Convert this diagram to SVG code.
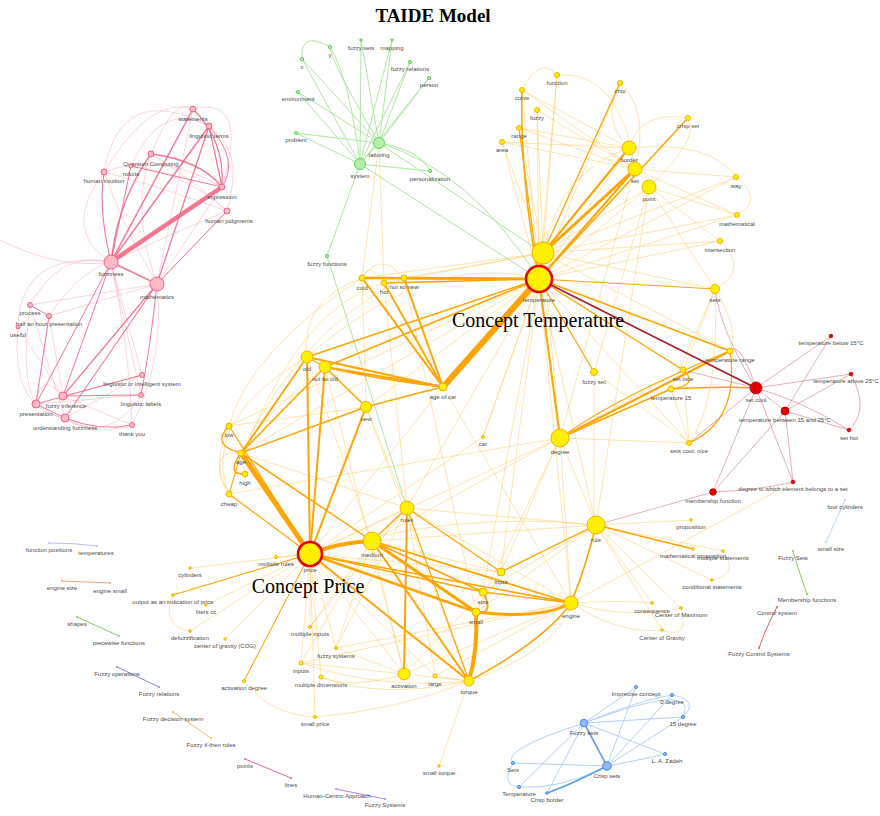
<svg xmlns="http://www.w3.org/2000/svg" width="880" height="816" viewBox="0 0 880 816">
<style>
  .bg{fill:#fff}
  .ps{stroke:#f2607f;fill:none;stroke-linecap:round;opacity:.85}
  .pf{stroke:#f37a95;fill:none;stroke-width:.8;opacity:.4}
  .os{stroke:#ffa400;fill:none;stroke-linecap:round}
  .of{stroke:#ffbf3a;fill:none;stroke-width:.8;opacity:.5}
  .gs{stroke:#a6e39a;fill:none;stroke-width:.9}
  .rs{stroke:#a3202e;fill:none;stroke-width:1.8}
  .rf{stroke:#cc5566;fill:none;stroke-width:.8;opacity:.6}
  .bs{stroke:#5f9de8;fill:none;stroke-width:1.6}
  .bf{stroke:#a9ccf4;fill:none;stroke-width:.9}
  .n-pk{fill:#ffb9c6;stroke:#f0607e;stroke-width:1}
  .n-or{fill:#ffef00;stroke:#f6ae00;stroke-width:1}
  .n-key{fill:#ffef00;stroke:#e60000;stroke-width:2.6}
  .n-gr{fill:#b7eeaa;stroke:#5ed35a;stroke-width:1}
  .n-rd{fill:#e00000;stroke:#b00000;stroke-width:.8}
  .n-bl{fill:#8cb9f2;stroke:#4a8ee6;stroke-width:1}
  .l{font-family:"Liberation Sans",Arial,sans-serif;font-size:6px;fill:#4a4a4a;text-anchor:middle}
  .big{font-family:"Liberation Serif","Times New Roman",serif;font-size:20px;fill:#000;text-anchor:middle}
  .title{font-family:"Liberation Serif","Times New Roman",serif;font-size:19px;font-weight:bold;fill:#000;text-anchor:middle}
</style>
<rect class="bg" x="0" y="0" width="880" height="816"/>

<g id="connectors">
  <!-- pink cluster -->
  <g id="edges-pink">
    <path class="pf" d="M104,172 Q120,80 209,126"/>
    <path class="pf" d="M151,154 Q175,95 193,109"/>
    <path class="pf" d="M193,109 Q250,95 222,187"/>
    <path class="pf" d="M209,126 Q245,150 227,211"/>
    <path class="pf" d="M104,172 Q160,150 222,187"/>
    <path class="pf" d="M104,172 Q170,190 227,211"/>
    <path class="pf" d="M131,166 Q180,170 227,211"/>
    <path class="pf" d="M151,154 Q200,185 227,211"/>
    <path class="pf" d="M111,262 Q180,230 227,211"/>
    <path class="pf" d="M157,284 Q200,240 227,211"/>
    <path class="pf" d="M157,284 L222,187"/>
    <path class="pf" d="M157,284 L193,109"/>
    <path class="pf" d="M157,284 Q130,210 151,154"/>
    <path class="pf" d="M157,284 Q120,220 104,172"/>
    <path class="pf" d="M104,172 Q150,95 193,109"/>
    <path class="pf" d="M131,166 Q160,100 209,126"/>
    <path class="pf" d="M18,327 Q20,250 111,262"/>
    <path class="pf" d="M30,305 Q60,250 111,262"/>
    <path class="pf" d="M49,316 Q80,270 111,262"/>
    <path class="pf" d="M30,305 L157,284"/>
    <path class="pf" d="M49,316 L157,284"/>
    <path class="pf" d="M18,327 Q10,410 65,418"/>
    <path class="pf" d="M18,327 L63,396"/>
    <path class="pf" d="M30,305 L65,418"/>
    <path class="pf" d="M49,316 L63,396"/>
    <path class="pf" d="M49,316 L36,404"/>
    <path class="pf" d="M30,305 Q20,380 36,404"/>
    <path class="pf" d="M65,418 Q110,445 141,395"/>
    <path class="pf" d="M36,404 Q90,440 132,425"/>
    <path class="pf" d="M63,396 L132,425"/>
    <path class="pf" d="M111,262 L142,375"/>
    <path class="pf" d="M111,262 L141,395"/>
    <path class="pf" d="M111,262 Q130,350 132,425"/>
    <path class="pf" d="M157,284 Q165,360 132,425"/>
    <path class="pf" d="M142,375 L65,418"/>
    <path class="pf" d="M141,395 L36,404"/>
    <path class="pf" d="M142,375 L63,396"/>
    <path class="pf" d="M36,404 Q40,370 63,396"/>
    <path class="pf" d="M104,172 Q60,230 111,262"/>
    <path class="pf" d="M0,240 Q60,270 111,262"/>
    <path class="ps" stroke-width="4.5" d="M111,262 L222,187"/>
    <path class="ps" stroke-width="1.5" d="M111,262 L193,109"/>
    <path class="ps" stroke-width="1.5" d="M111,262 L209,126"/>
    <path class="ps" stroke-width="1.3" d="M111,262 Q118,200 151,154"/>
    <path class="ps" stroke-width="1.1" d="M111,262 Q98,210 104,172"/>
    <path class="ps" stroke-width="1" d="M111,262 L131,166"/>
    <path class="ps" stroke-width="1.6" d="M111,262 L157,284"/>
    <path class="ps" stroke-width="1.3" d="M157,284 L209,126"/>
    <path class="ps" stroke-width="1.5" d="M151,154 Q200,160 222,187"/>
    <path class="ps" stroke-width="1.2" d="M193,109 Q225,140 222,187"/>
    <path class="ps" stroke-width="1.2" d="M209,126 L222,187"/>
    <path class="ps" stroke-width="1" d="M209,126 Q240,160 222,187"/>
    <path class="ps" stroke-width="1" d="M131,166 L222,187"/>
    <path class="ps" stroke-width="1" d="M157,284 L227,211"/>
    <path class="ps" stroke-width="1.2" d="M157,284 L63,396"/>
    <path class="ps" stroke-width="1.1" d="M157,284 L65,418"/>
    <path class="ps" stroke-width="1" d="M111,262 L36,404"/>
    <path class="ps" stroke-width="1" d="M111,262 L63,396"/>
    <path class="ps" stroke-width="1" d="M157,284 Q150,350 141,395"/>
    <path class="ps" stroke-width="1" d="M63,396 L141,395"/>
    <path class="ps" stroke-width="1" d="M36,404 L142,375"/>
    <path class="ps" stroke-width="1" d="M65,418 Q100,432 132,425"/>
    <path class="ps" stroke-width="1" d="M36,404 L65,418"/>
    <path class="ps" stroke-width="1" d="M30,305 L49,316"/>
    <path class="ps" stroke-width=".9" d="M36,404 L49,316"/>
  </g>

  <!-- green cluster -->
  <g id="edges-green">
    <path class="gs" d="M379,143 L302,59"/>
    <path class="gs" d="M379,143 Q330,60 330,47"/>
    <path class="gs" d="M379,143 L361,40"/>
    <path class="gs" d="M379,143 L392,40"/>
    <path class="gs" d="M379,143 L410,62"/>
    <path class="gs" d="M379,143 L429,78"/>
    <path class="gs" d="M379,143 L298,92"/>
    <path class="gs" d="M379,143 L296,133"/>
    <path class="gs" d="M379,143 Q420,150 430,171"/>
    <path class="gs" d="M360,164 L302,59"/>
    <path class="gs" d="M360,164 Q350,80 330,47"/>
    <path class="gs" d="M360,164 L361,40"/>
    <path class="gs" d="M360,164 L392,40"/>
    <path class="gs" d="M360,164 L410,62"/>
    <path class="gs" d="M360,164 L429,78"/>
    <path class="gs" d="M360,164 L298,92"/>
    <path class="gs" d="M360,164 L296,133"/>
    <path class="gs" d="M360,164 L430,171"/>
    <path class="gs" d="M360,164 L379,143"/>
    <path class="gs" d="M302,59 Q300,30 330,47"/>
    <path class="gs" d="M360,164 L327,256"/>
    <path class="gs" d="M327,256 L407,508"/>
    <path class="gs" d="M379,143 Q470,170 539,279"/>
    <path class="gs" d="M360,164 L539,279"/>
    <path class="gs" d="M379,143 L543,253"/>
  </g>

  <!-- orange cluster, faint links -->
  <g id="edges-orange-faint">
    <path class="of" d="M539,279 L557,75"/>
    <path class="of" d="M539,279 L522,90"/>
    <path class="of" d="M539,279 L537,110"/>
    <path class="of" d="M539,279 L502,142"/>
    <path class="of" d="M539,279 L620,83"/>
    <path class="of" d="M539,279 L736,177"/>
    <path class="of" d="M539,279 L737,215"/>
    <path class="of" d="M539,279 L720,241"/>
    <path class="of" d="M539,279 L649,187"/>
    <path class="of" d="M539,279 L629,148"/>
    <path class="of" d="M539,279 L689,443"/>
    <path class="of" d="M539,279 L483,437"/>
    <path class="of" d="M539,279 L596,525"/>
    <path class="of" d="M539,279 L571,603"/>
    <path class="of" d="M539,279 L501,572"/>
    <path class="of" d="M539,279 L483,592"/>
    <path class="of" d="M539,279 L407,508"/>
    <path class="of" d="M539,279 L366,407"/>
    <path class="of" d="M539,279 L229,426"/>
    <path class="of" d="M539,279 L241,453"/>
    <path class="of" d="M539,279 Q430,250 307,357"/>
    <path class="of" d="M543,253 L557,75"/>
    <path class="of" d="M543,253 L537,110"/>
    <path class="of" d="M543,253 L519,128"/>
    <path class="of" d="M543,253 L502,142"/>
    <path class="of" d="M543,253 L736,177"/>
    <path class="of" d="M543,253 L737,215"/>
    <path class="of" d="M543,253 L720,241"/>
    <path class="of" d="M543,253 L715,289"/>
    <path class="of" d="M543,253 L649,187"/>
    <path class="of" d="M543,253 L362,278"/>
    <path class="of" d="M543,253 L404,278"/>
    <path class="of" d="M543,253 L384,283"/>
    <path class="of" d="M543,253 L560,438"/>
    <path class="of" d="M543,253 L730,351"/>
    <path class="of" d="M522,90 L629,148"/>
    <path class="of" d="M522,90 L635,169"/>
    <path class="of" d="M519,128 L629,148"/>
    <path class="of" d="M519,128 L635,169"/>
    <path class="of" d="M502,142 L635,169"/>
    <path class="of" d="M502,142 L629,148"/>
    <path class="of" d="M537,110 L635,169"/>
    <path class="of" d="M557,75 Q620,70 635,169"/>
    <path class="of" d="M522,90 Q540,55 557,75"/>
    <path class="of" d="M620,83 Q650,110 635,169"/>
    <path class="of" d="M620,83 Q600,120 629,148"/>
    <path class="of" d="M688,118 Q700,140 649,187"/>
    <path class="of" d="M688,118 Q640,110 629,148"/>
    <path class="of" d="M629,148 Q710,140 736,177"/>
    <path class="of" d="M635,169 L736,177"/>
    <path class="of" d="M649,187 L737,215"/>
    <path class="of" d="M635,169 L737,215"/>
    <path class="of" d="M649,187 L720,241"/>
    <path class="of" d="M736,177 Q765,200 737,215"/>
    <path class="of" d="M720,241 Q750,270 715,289"/>
    <path class="of" d="M649,187 L715,289"/>
    <path class="of" d="M629,148 Q560,170 543,253"/>
    <path class="of" d="M649,187 L594,372"/>
    <path class="of" d="M635,169 L560,438"/>
    <path class="of" d="M649,187 L596,525"/>
    <path class="of" d="M715,289 Q700,330 683,370"/>
    <path class="of" d="M715,289 L671,389"/>
    <path class="of" d="M715,289 Q740,330 730,351"/>
    <path class="of" d="M715,289 Q720,400 689,443"/>
    <path class="of" d="M539,279 L730,351"/>
    <path class="of" d="M560,438 L683,370"/>
    <path class="of" d="M560,438 L689,443"/>
    <path class="of" d="M560,438 L596,525"/>
    <path class="of" d="M560,438 L571,603"/>
    <path class="of" d="M560,438 L501,572"/>
    <path class="of" d="M560,438 L476,612"/>
    <path class="of" d="M560,438 L372,541"/>
    <path class="of" d="M560,438 L310,554"/>
    <path class="of" d="M560,438 L229,494"/>
    <path class="of" d="M594,372 L594,520"/>
    <path class="of" d="M594,372 L690,443"/>
    <path class="of" d="M683,370 L689,443"/>
    <path class="of" d="M671,389 L689,443"/>
    <path class="of" d="M483,437 L310,554"/>
    <path class="of" d="M483,437 L539,279"/>
    <path class="of" d="M362,278 Q300,300 307,357"/>
    <path class="of" d="M362,278 Q250,350 229,426"/>
    <path class="of" d="M404,278 Q300,330 241,453"/>
    <path class="of" d="M384,283 Q290,310 229,494"/>
    <path class="of" d="M362,278 Q380,250 404,278"/>
    <path class="of" d="M362,278 Q370,260 384,283"/>
    <path class="of" d="M362,278 L366,407"/>
    <path class="of" d="M384,283 L407,508"/>
    <path class="of" d="M404,278 L476,612"/>
    <path class="of" d="M362,278 L379,143"/>
    <path class="of" d="M384,283 L379,143"/>
    <path class="of" d="M307,357 Q200,420 229,494"/>
    <path class="of" d="M325,367 Q230,440 245,474"/>
    <path class="of" d="M229,426 L366,407"/>
    <path class="of" d="M229,426 Q210,470 229,494"/>
    <path class="of" d="M229,494 Q205,450 241,453"/>
    <path class="of" d="M241,453 L407,508"/>
    <path class="of" d="M307,357 L372,541"/>
    <path class="of" d="M325,367 L404,674"/>
    <path class="of" d="M366,407 L407,508"/>
    <path class="of" d="M366,407 L469,681"/>
    <path class="of" d="M443,387 L571,603"/>
    <path class="of" d="M443,387 L310,554"/>
    <path class="of" d="M596,525 L691,520"/>
    <path class="of" d="M596,525 L723,551"/>
    <path class="of" d="M596,525 L712,580"/>
    <path class="of" d="M596,525 L652,603"/>
    <path class="of" d="M596,525 L681,608"/>
    <path class="of" d="M596,525 L662,630"/>
    <path class="of" d="M596,525 L501,572"/>
    <path class="of" d="M596,525 L372,541"/>
    <path class="of" d="M596,525 L407,508"/>
    <path class="of" d="M596,525 Q450,510 310,554"/>
    <path class="of" d="M596,525 L483,592"/>
    <path class="of" d="M596,525 L476,612"/>
    <path class="of" d="M723,551 Q740,575 712,580"/>
    <path class="of" d="M571,603 Q620,600 652,603"/>
    <path class="of" d="M571,603 Q630,620 681,608"/>
    <path class="of" d="M571,603 Q620,635 662,630"/>
    <path class="of" d="M681,608 Q690,640 662,630"/>
    <path class="of" d="M571,603 L372,541"/>
    <path class="of" d="M571,603 L407,508"/>
    <path class="of" d="M571,603 L404,674"/>
    <path class="of" d="M571,603 L435,676"/>
    <path class="of" d="M571,603 L336,648"/>
    <path class="of" d="M571,603 L301,663"/>
    <path class="of" d="M571,603 L793,482"/>
    <path class="of" d="M310,554 L276,557"/>
    <path class="of" d="M310,554 L190,568"/>
    <path class="of" d="M310,554 L173,595"/>
    <path class="of" d="M310,554 L206,605"/>
    <path class="of" d="M310,554 L190,631"/>
    <path class="of" d="M310,554 L225,639"/>
    <path class="of" d="M310,554 L244,681"/>
    <path class="of" d="M310,554 L310,627"/>
    <path class="of" d="M310,554 L336,648"/>
    <path class="of" d="M310,554 L301,663"/>
    <path class="of" d="M310,554 L321,677"/>
    <path class="of" d="M310,554 L315,717"/>
    <path class="of" d="M310,554 L404,674"/>
    <path class="of" d="M310,554 L435,676"/>
    <path class="of" d="M310,554 L501,572"/>
    <path class="of" d="M310,554 L407,508"/>
    <path class="of" d="M173,595 Q160,625 190,631"/>
    <path class="of" d="M244,681 Q270,715 315,717"/>
    <path class="of" d="M315,717 Q400,710 469,681"/>
    <path class="of" d="M469,681 L439,766"/>
    <path class="of" d="M469,681 L404,674"/>
    <path class="of" d="M469,681 L435,676"/>
    <path class="of" d="M469,681 Q380,690 301,663"/>
    <path class="of" d="M469,681 Q380,700 321,677"/>
    <path class="of" d="M404,674 L301,663"/>
    <path class="of" d="M404,674 L336,648"/>
    <path class="of" d="M404,674 Q350,690 321,677"/>
    <path class="of" d="M404,674 L372,541"/>
    <path class="of" d="M404,674 L483,592"/>
    <path class="of" d="M407,508 L310,627"/>
    <path class="of" d="M407,508 L336,648"/>
    <path class="of" d="M407,508 L435,676"/>
    <path class="of" d="M372,541 L310,627"/>
    <path class="of" d="M372,541 L301,663"/>
    <path class="of" d="M372,541 L336,648"/>
    <path class="of" d="M501,572 L372,541"/>
    <path class="of" d="M501,572 L476,612"/>
    <path class="of" d="M483,592 L372,541"/>
    <path class="of" d="M469,681 Q560,650 571,603"/>
  </g>

  <!-- orange cluster, strong links -->
  <g id="edges-orange">
    <path class="os" stroke-width="6" d="M539,279 L443,387"/>
    <path class="os" stroke-width="3" d="M539,279 L543,253"/>
    <path class="os" stroke-width="3" d="M543,253 L635,169"/>
    <path class="os" stroke-width="2" d="M543,253 L629,148"/>
    <path class="os" stroke-width="2" d="M539,279 L635,169"/>
    <path class="os" stroke-width="1.5" d="M539,279 L688,118"/>
    <path class="os" stroke-width="1.3" d="M543,253 L620,83"/>
    <path class="os" stroke-width="1.5" d="M539,279 Q520,180 522,90"/>
    <path class="os" stroke-width="1.2" d="M539,279 L519,128"/>
    <path class="os" stroke-width="2.5" d="M539,279 L362,278"/>
    <path class="os" stroke-width="2.5" d="M539,279 L404,278"/>
    <path class="os" stroke-width="1.5" d="M539,279 L384,283"/>
    <path class="os" stroke-width="1.5" d="M539,279 L307,357"/>
    <path class="os" stroke-width="1.5" d="M539,279 L325,367"/>
    <path class="os" stroke-width="2" d="M539,279 L560,438"/>
    <path class="os" stroke-width="1.5" d="M539,279 L730,351"/>
    <path class="os" stroke-width="1.4" d="M539,279 L683,370"/>
    <path class="os" stroke-width="1.2" d="M539,279 L594,372"/>
    <path class="os" stroke-width="1.2" d="M539,279 L715,289"/>
    <path class="os" stroke-width="2" d="M560,438 L730,351"/>
    <path class="os" stroke-width="1.4" d="M560,438 L671,389"/>
    <path class="os" stroke-width="1.2" d="M683,370 Q700,385 671,389"/>
    <path class="os" stroke-width="1.2" d="M730,351 Q740,420 689,443"/>
    <path class="os" stroke-width="2" d="M362,278 L443,387"/>
    <path class="os" stroke-width="2" d="M404,278 L443,387"/>
    <path class="os" stroke-width="1.8" d="M384,283 L443,387"/>
    <path class="os" stroke-width="2" d="M307,357 L443,387"/>
    <path class="os" stroke-width="1.8" d="M325,367 L443,387"/>
    <path class="os" stroke-width="1.5" d="M325,367 Q380,380 443,387"/>
    <path class="os" stroke-width="1.5" d="M366,407 Q410,395 443,387"/>
    <path class="os" stroke-width="1.3" d="M307,357 L325,367"/>
    <path class="os" stroke-width="1.5" d="M325,367 L366,407"/>
    <path class="os" stroke-width="2" d="M307,357 L310,554"/>
    <path class="os" stroke-width="2" d="M325,367 L310,554"/>
    <path class="os" stroke-width="2" d="M366,407 L310,554"/>
    <path class="os" stroke-width="1.8" d="M307,357 L241,453"/>
    <path class="os" stroke-width="1.5" d="M325,367 L241,453"/>
    <path class="os" stroke-width="1.5" d="M366,407 L241,453"/>
    <path class="os" stroke-width="1.4" d="M229,426 Q210,445 241,453"/>
    <path class="os" stroke-width="1.4" d="M241,453 Q225,475 245,474"/>
    <path class="os" stroke-width="1" d="M241,453 L229,494"/>
    <path class="os" stroke-width="5" d="M241,453 L310,554"/>
    <path class="os" stroke-width="1.5" d="M241,453 L372,541"/>
    <path class="os" stroke-width="1.2" d="M229,426 L310,554"/>
    <path class="os" stroke-width="1.2" d="M229,494 L310,554"/>
    <path class="os" stroke-width="4" d="M310,554 Q340,542 372,541"/>
    <path class="os" stroke-width="2.5" d="M310,554 L476,612"/>
    <path class="os" stroke-width="2" d="M310,554 L469,681"/>
    <path class="os" stroke-width="1.6" d="M310,554 L571,603"/>
    <path class="os" stroke-width="1.3" d="M310,554 L483,592"/>
    <path class="os" stroke-width="3" d="M372,541 L476,612"/>
    <path class="os" stroke-width="2" d="M372,541 L469,681"/>
    <path class="os" stroke-width="1.8" d="M372,541 L571,603"/>
    <path class="os" stroke-width="1.4" d="M372,541 L483,592"/>
    <path class="os" stroke-width="1.5" d="M407,508 L372,541"/>
    <path class="os" stroke-width="2" d="M407,508 L404,674"/>
    <path class="os" stroke-width="1.2" d="M407,508 L501,572"/>
    <path class="os" stroke-width="1.2" d="M407,508 L469,681"/>
    <path class="os" stroke-width="4" d="M476,612 Q478,650 469,681"/>
    <path class="os" stroke-width="3" d="M476,612 Q540,620 571,603"/>
    <path class="os" stroke-width="2" d="M483,592 Q495,615 476,612"/>
    <path class="os" stroke-width="1.3" d="M483,592 L571,603"/>
    <path class="os" stroke-width="1.5" d="M469,681 Q545,640 571,603"/>
    <path class="os" stroke-width="1.6" d="M596,525 Q585,570 571,603"/>
    <path class="os" stroke-width="1.2" d="M596,525 L501,572"/>
    <path class="os" stroke-width="1.6" d="M596,525 L693,549"/>
    <path class="os" stroke-width="1.2" d="M560,438 Q620,395 730,351"/>
    <path class="os" stroke-width="1" d="M310,554 L244,681"/>
    <path class="os" stroke-width="1" d="M310,554 L173,595"/>
  </g>

  <!-- red cluster -->
  <g id="edges-red">
    <path class="rs" d="M539,279 L756,388"/>
    <path class="os" stroke-width="1.5" d="M671,389 Q720,386 756,388"/>
    <path class="rf" d="M756,388 L831,336"/>
    <path class="rf" d="M756,388 L851,374"/>
    <path class="rf" d="M756,388 L785,411"/>
    <path class="rf" d="M756,388 Q800,400 849,430"/>
    <path class="rf" d="M756,388 L713,492"/>
    <path class="rf" d="M756,388 L793,482"/>
    <path class="rf" d="M756,388 L683,370"/>
    <path class="rf" d="M756,388 L689,443"/>
    <path class="rf" d="M756,388 Q740,340 730,351"/>
    <path class="rf" d="M756,388 Q720,330 715,289"/>
    <path class="rf" d="M785,411 L831,336"/>
    <path class="rf" d="M785,411 L851,374"/>
    <path class="rf" d="M785,411 L849,430"/>
    <path class="rf" d="M785,411 L793,482"/>
    <path class="rf" d="M785,411 L713,492"/>
    <path class="rf" d="M851,374 Q870,410 849,430"/>
    <path class="rf" d="M713,492 Q760,490 793,482"/>
    <path class="rf" d="M713,492 L596,525"/>
  </g>

  <!-- blue cluster -->
  <g id="edges-blue">
    <path class="bs" d="M584,723 L607,766"/>
    <path class="bf" d="M584,723 L636,687"/>
    <path class="bf" d="M584,723 Q640,700 672,695"/>
    <path class="bf" d="M584,723 L683,717"/>
    <path class="bf" d="M584,723 L665,754"/>
    <path class="bf" d="M584,723 Q500,750 513,763"/>
    <path class="bf" d="M584,723 L519,787"/>
    <path class="bf" d="M607,766 L636,687"/>
    <path class="bf" d="M607,766 L672,695"/>
    <path class="bf" d="M607,766 L683,717"/>
    <path class="bf" d="M607,766 Q640,760 665,754"/>
    <path class="bf" d="M607,766 L513,763"/>
    <path class="bf" d="M607,766 Q560,790 519,787"/>
    <path class="bs" stroke-width="1.3" d="M607,766 Q570,785 547,793"/>
    <path class="bf" d="M547,793 L584,723"/>
    <path class="bf" d="M672,695 Q700,700 683,717"/>
    <path class="bf" d="M513,763 Q500,785 519,787"/>
    <path class="bf" d="M584,723 Q700,680 683,717"/>
  </g>

  <!-- small separate pairs -->
  <g id="edges-pairs">
    <path d="M49,543 Q75,543 97,546" stroke="#c5b6f2" stroke-width="1" fill="none"/>
    <path d="M62,581 L110,583" stroke="#f2a27a" stroke-width="1" fill="none"/>
    <path d="M77,617 L119,636" stroke="#86cc66" stroke-width="1" fill="none"/>
    <path d="M117,667 L159,687" stroke="#8585f0" stroke-width="1" fill="none"/>
    <path d="M173,712 L211,738" stroke="#f2c060" stroke-width="1" fill="none"/>
    <path d="M245,759 L291,778" stroke="#e6649a" stroke-width="1" fill="none"/>
    <path d="M336,789 L385,799" stroke="#b387f2" stroke-width="1" fill="none"/>
    <path d="M845,500 L826,542" stroke="#b9d6f4" stroke-width="1" fill="none"/>
    <path d="M793,551 Q800,575 807,594" stroke="#86cc55" stroke-width="1" fill="none"/>
    <path d="M777,607 Q765,630 759,648" stroke="#ee5a5a" stroke-width="1" fill="none"/>
  </g>
</g>

<!-- pink nodes -->
<g id="n-statements"><circle class="n-pk" cx="193" cy="109" r="3"/><text class="l" x="193" y="121">statements</text></g>
<g id="n-linguistic-terms"><circle class="n-pk" cx="209" cy="126" r="3"/><text class="l" x="209" y="138">linguistic terms</text></g>
<g id="n-quantum-computing"><circle class="n-pk" cx="151" cy="154" r="3"/><text class="l" x="151" y="166">Quantum Computing</text></g>
<g id="n-robots"><circle class="n-pk" cx="131" cy="166" r="1.8"/><text class="l" x="131" y="176">robots</text></g>
<g id="n-human-intuition"><circle class="n-pk" cx="104" cy="172" r="3"/><text class="l" x="104" y="183">human intuition</text></g>
<g id="n-expression"><circle class="n-pk" cx="222" cy="187" r="3"/><text class="l" x="222" y="199">expression</text></g>
<g id="n-human-judgments"><circle class="n-pk" cx="227" cy="211" r="3"/><text class="l" x="229" y="223">human judgments</text></g>
<g id="n-fuzziness"><circle class="n-pk" cx="111" cy="262" r="7"/><text class="l" x="111" y="276">fuzziness</text></g>
<g id="n-mathematics"><circle class="n-pk" cx="157" cy="284" r="7"/><text class="l" x="157" y="299">mathematics</text></g>
<g id="n-process"><circle class="n-pk" cx="30" cy="305" r="2.5"/><text class="l" x="30" y="315">process</text></g>
<g id="n-half-an-hour-presentation"><circle class="n-pk" cx="49" cy="316" r="2.5"/><text class="l" x="49" y="326">half an hour presentation</text></g>
<g id="n-useful"><circle class="n-pk" cx="18" cy="327" r="2"/><text class="l" x="18" y="337">useful</text></g>
<g id="n-linguistic-or-intelligent-system"><circle class="n-pk" cx="142" cy="375" r="2.5"/><text class="l" x="142" y="386">linguistic or intelligent system</text></g>
<g id="n-linguistic-labels"><circle class="n-pk" cx="141" cy="395" r="2.5"/><text class="l" x="141" y="406">linguistic labels</text></g>
<g id="n-fuzzy-inference"><circle class="n-pk" cx="63" cy="396" r="4"/><text class="l" x="66" y="408">fuzzy inference</text></g>
<g id="n-presentation"><circle class="n-pk" cx="36" cy="404" r="4"/><text class="l" x="36" y="416">presentation</text></g>
<g id="n-understanding-fuzziness"><circle class="n-pk" cx="65" cy="418" r="4"/><text class="l" x="65" y="430">understanding fuzziness</text></g>
<g id="n-thank-you"><circle class="n-pk" cx="132" cy="425" r="2.5"/><text class="l" x="132" y="436">thank you</text></g>

<!-- green nodes -->
<g id="n-x"><circle class="n-gr" cx="302" cy="59" r="1.6"/><text class="l" x="302" y="69">x</text></g>
<g id="n-y"><circle class="n-gr" cx="330" cy="47" r="1.6"/><text class="l" x="330" y="57">y</text></g>
<g id="n-fuzzy-sets"><circle class="n-gr" cx="361" cy="40" r="1.2"/><text class="l" x="361" y="50">fuzzy sets</text></g>
<g id="n-mapping"><circle class="n-gr" cx="392" cy="40" r="1.2"/><text class="l" x="392" y="50">mapping</text></g>
<g id="n-fuzzy-relations"><circle class="n-gr" cx="410" cy="62" r="1.6"/><text class="l" x="410" y="71">fuzzy relations</text></g>
<g id="n-person"><circle class="n-gr" cx="429" cy="78" r="1.6"/><text class="l" x="429" y="87">person</text></g>
<g id="n-environment"><circle class="n-gr" cx="298" cy="92" r="1.6"/><text class="l" x="298" y="101">environment</text></g>
<g id="n-problem"><circle class="n-gr" cx="296" cy="133" r="1.6"/><text class="l" x="296" y="142">problem</text></g>
<g id="n-tailoring"><circle class="n-gr" cx="379" cy="143" r="5.5"/><text class="l" x="379" y="157">tailoring</text></g>
<g id="n-system"><circle class="n-gr" cx="360" cy="164" r="5.5"/><text class="l" x="360" y="178">system</text></g>
<g id="n-personalization"><circle class="n-gr" cx="430" cy="171" r="1.6"/><text class="l" x="430" y="181">personalization</text></g>
<g id="n-fuzzy-functions"><circle class="n-gr" cx="327" cy="256" r="1.6"/><text class="l" x="327" y="266">fuzzy functions</text></g>

<!-- orange nodes -->
<g id="n-function"><circle class="n-or" cx="557" cy="75" r="2.5"/><text class="l" x="557" y="85">function</text></g>
<g id="n-curve"><circle class="n-or" cx="522" cy="90" r="2.5"/><text class="l" x="522" y="100">curve</text></g>
<g id="n-chip"><circle class="n-or" cx="620" cy="83" r="2.5"/><text class="l" x="620" y="93">chip</text></g>
<g id="n-fuzzy"><circle class="n-or" cx="537" cy="110" r="2.5"/><text class="l" x="537" y="120">fuzzy</text></g>
<g id="n-crisp-set"><circle class="n-or" cx="688" cy="118" r="2.5"/><text class="l" x="688" y="128">crisp set</text></g>
<g id="n-range"><circle class="n-or" cx="519" cy="128" r="2.5"/><text class="l" x="519" y="138">range</text></g>
<g id="n-area"><circle class="n-or" cx="502" cy="142" r="2.5"/><text class="l" x="502" y="152">area</text></g>
<g id="n-border"><circle class="n-or" cx="629" cy="148" r="7"/><text class="l" x="629" y="162">border</text></g>
<g id="n-set"><circle class="n-or" cx="635" cy="169" r="7"/><text class="l" x="635" y="183">set</text></g>
<g id="n-point"><circle class="n-or" cx="649" cy="187" r="7"/><text class="l" x="649" y="201">point</text></g>
<g id="n-way"><circle class="n-or" cx="736" cy="177" r="2.5"/><text class="l" x="736" y="188">way</text></g>
<g id="n-mathematical"><circle class="n-or" cx="737" cy="215" r="2.5"/><text class="l" x="737" y="226">mathematical</text></g>
<g id="n-intersection"><circle class="n-or" cx="720" cy="241" r="2.5"/><text class="l" x="720" y="252">intersection</text></g>
<g id="n-race"><circle class="n-or" cx="543" cy="253" r="11"/><text class="l" x="541" y="270">race</text></g>
<g id="n-temperature"><circle class="n-key" cx="539" cy="279" r="13"/><text class="l" x="539" y="302">temperature</text></g>
<g id="n-sets"><circle class="n-or" cx="715" cy="289" r="4.5"/><text class="l" x="715" y="302">sets</text></g>
<g id="n-temperature-range"><circle class="n-or" cx="730" cy="351" r="3"/><text class="l" x="730" y="362">temperature range</text></g>
<g id="n-set-nice"><circle class="n-or" cx="683" cy="370" r="3"/><text class="l" x="683" y="381">set nice</text></g>
<g id="n-temperature-15"><circle class="n-or" cx="671" cy="389" r="3"/><text class="l" x="671" y="400">temperature 15</text></g>
<g id="n-fuzzy-set"><circle class="n-or" cx="594" cy="372" r="3.5"/><text class="l" x="594" y="384">fuzzy set</text></g>
<g id="n-degree"><circle class="n-or" cx="560" cy="438" r="9"/><text class="l" x="560" y="454">degree</text></g>
<g id="n-sets-cool-nice"><circle class="n-or" cx="689" cy="443" r="2.5"/><text class="l" x="689" y="453">sets cool, nice</text></g>
<g id="n-cold"><circle class="n-or" cx="362" cy="278" r="3"/><text class="l" x="362" y="290">cold</text></g>
<g id="n-hot"><circle class="n-or" cx="384" cy="283" r="3"/><text class="l" x="384" y="294">hot</text></g>
<g id="n-not-so-new"><circle class="n-or" cx="404" cy="278" r="3"/><text class="l" x="404" y="289">not so new</text></g>
<g id="n-old"><circle class="n-or" cx="307" cy="357" r="6"/><text class="l" x="307" y="371">old</text></g>
<g id="n-not-so-old"><circle class="n-or" cx="325" cy="367" r="6"/><text class="l" x="325" y="381">not so old</text></g>
<g id="n-age-of-car"><circle class="n-or" cx="443" cy="387" r="4"/><text class="l" x="443" y="399">age of car</text></g>
<g id="n-new"><circle class="n-or" cx="366" cy="407" r="5.5"/><text class="l" x="366" y="421">new</text></g>
<g id="n-car"><circle class="n-or" cx="483" cy="437" r="1.5"/><text class="l" x="483" y="446">car</text></g>
<g id="n-low"><circle class="n-or" cx="229" cy="426" r="3"/><text class="l" x="229" y="437">low</text></g>
<g id="n-age"><circle class="n-or" cx="241" cy="453" r="3"/><text class="l" x="241" y="464">age</text></g>
<g id="n-high"><circle class="n-or" cx="245" cy="474" r="3"/><text class="l" x="245" y="485">high</text></g>
<g id="n-cheap"><circle class="n-or" cx="229" cy="494" r="3"/><text class="l" x="229" y="506">cheap</text></g>
<g id="n-rules"><circle class="n-or" cx="407" cy="508" r="7"/><text class="l" x="407" y="522">rules</text></g>
<g id="n-medium"><circle class="n-or" cx="372" cy="541" r="9"/><text class="l" x="372" y="557">medium</text></g>
<g id="n-price"><circle class="n-key" cx="310" cy="554" r="12"/><text class="l" x="310" y="572">price</text></g>
<g id="n-multiple-rules"><circle class="n-or" cx="276" cy="557" r="1.5"/><text class="l" x="276" y="566">multiple rules</text></g>
<g id="n-input"><circle class="n-or" cx="501" cy="572" r="4"/><text class="l" x="501" y="584">input</text></g>
<g id="n-size"><circle class="n-or" cx="483" cy="592" r="4"/><text class="l" x="483" y="604">size</text></g>
<g id="n-small"><circle class="n-or" cx="476" cy="612" r="4"/><text class="l" x="476" y="624">small</text></g>
<g id="n-multiple-inputs"><circle class="n-or" cx="310" cy="627" r="1.5"/><text class="l" x="310" y="636">multiple inputs</text></g>
<g id="n-fuzzy-systems"><circle class="n-or" cx="336" cy="648" r="1.5"/><text class="l" x="336" y="658">fuzzy systems</text></g>
<g id="n-inputs"><circle class="n-or" cx="301" cy="663" r="2"/><text class="l" x="301" y="673">inputs</text></g>
<g id="n-multiple-dimensions"><circle class="n-or" cx="321" cy="677" r="2"/><text class="l" x="321" y="687">multiple dimensions</text></g>
<g id="n-activation"><circle class="n-or" cx="404" cy="674" r="6"/><text class="l" x="404" y="688">activation</text></g>
<g id="n-large"><circle class="n-or" cx="435" cy="676" r="2"/><text class="l" x="435" y="686">large</text></g>
<g id="n-torque"><circle class="n-or" cx="469" cy="681" r="5"/><text class="l" x="469" y="694">torque</text></g>
<g id="n-small-price"><circle class="n-or" cx="315" cy="717" r="1.5"/><text class="l" x="315" y="726">small price</text></g>
<g id="n-activation-degree"><circle class="n-or" cx="244" cy="681" r="1.5"/><text class="l" x="244" y="690">activation degree</text></g>
<g id="n-rule"><circle class="n-or" cx="596" cy="525" r="9"/><text class="l" x="596" y="542">rule</text></g>
<g id="n-proposition"><circle class="n-or" cx="691" cy="520" r="1.3"/><text class="l" x="691" y="529">proposition</text></g>
<g id="n-mathematical-proposition"><circle class="n-or" cx="693" cy="549" r="1.3"/><text class="l" x="693" y="558">mathematical proposition</text></g>
<g id="n-multiple-statements"><circle class="n-or" cx="723" cy="551" r="1.3"/><text class="l" x="723" y="560">multiple statements</text></g>
<g id="n-conditional-statements"><circle class="n-or" cx="712" cy="580" r="1.3"/><text class="l" x="712" y="589">conditional statements</text></g>
<g id="n-engine"><circle class="n-or" cx="571" cy="603" r="7"/><text class="l" x="571" y="618">engine</text></g>
<g id="n-consequence"><circle class="n-or" cx="652" cy="603" r="1.3"/><text class="l" x="652" y="613">consequence</text></g>
<g id="n-center-of-maximum"><circle class="n-or" cx="681" cy="608" r="1.3"/><text class="l" x="681" y="617">Center of Maximum</text></g>
<g id="n-center-of-gravity"><circle class="n-or" cx="662" cy="630" r="1.3"/><text class="l" x="662" y="640">Center of Gravity</text></g>
<g id="n-cylinders"><circle class="n-or" cx="190" cy="568" r="1.2"/><text class="l" x="190" y="577">cylinders</text></g>
<g id="n-output-as-an-indication-of-price"><circle class="n-or" cx="173" cy="595" r="1.3"/><text class="l" x="173" y="604">output as an indication of price</text></g>
<g id="n-liters-cc"><circle class="n-or" cx="206" cy="605" r="1.2"/><text class="l" x="206" y="614">liters cc</text></g>
<g id="n-defuzzification"><circle class="n-or" cx="190" cy="631" r="1.3"/><text class="l" x="190" y="640">defuzzification</text></g>
<g id="n-center-of-gravity-cog"><circle class="n-or" cx="225" cy="639" r="1.2"/><text class="l" x="225" y="648">center of gravity (COG)</text></g>
<g id="n-small-torque"><circle class="n-or" cx="439" cy="766" r="1.2"/><text class="l" x="439" y="775">small torque</text></g>

<!-- red nodes -->
<g id="n-set-cool"><circle class="n-rd" cx="756" cy="388" r="6"/><text class="l" x="756" y="402">set cool</text></g>
<g id="n-temperature-below-15c"><circle class="n-rd" cx="831" cy="336" r="1.8"/><text class="l" x="831" y="345">temperature below 15°C</text></g>
<g id="n-temperature-above-25c"><circle class="n-rd" cx="851" cy="374" r="1.8"/><text class="l" x="846" y="383">temperature above 25°C</text></g>
<g id="n-temperature-between"><circle class="n-rd" cx="785" cy="411" r="4"/><text class="l" x="785" y="422">temperature between 15 and 25°C</text></g>
<g id="n-set-hot"><circle class="n-rd" cx="849" cy="430" r="1.8"/><text class="l" x="849" y="440">set hot</text></g>
<g id="n-membership-function"><circle class="n-rd" cx="713" cy="492" r="3.3"/><text class="l" x="713" y="503">membership function</text></g>
<g id="n-degree-to-which"><circle class="n-rd" cx="793" cy="482" r="1.8"/><text class="l" x="793" y="491">degree to which element belongs to a set</text></g>

<!-- blue nodes -->
<g id="n-imprecise-concept"><circle class="n-bl" cx="636" cy="687" r="1.6"/><text class="l" x="636" y="696">Imprecise concept</text></g>
<g id="n-0-degree"><circle class="n-bl" cx="672" cy="695" r="1.6"/><text class="l" x="672" y="704">0 degree</text></g>
<g id="n-15-degree"><circle class="n-bl" cx="683" cy="717" r="1.6"/><text class="l" x="683" y="726">15 degree</text></g>
<g id="n-fuzzy-sets-b"><circle class="n-bl" cx="584" cy="723" r="3.8"/><text class="l" x="584" y="735">Fuzzy sets</text></g>
<g id="n-la-zadeh"><circle class="n-bl" cx="665" cy="754" r="1.6"/><text class="l" x="667" y="763">L. A. Zadeh</text></g>
<g id="n-crisp-sets"><circle class="n-bl" cx="607" cy="766" r="4.3"/><text class="l" x="607" y="778">Crisp sets</text></g>
<g id="n-sets-b"><circle class="n-bl" cx="513" cy="763" r="1.6"/><text class="l" x="513" y="772">Sets</text></g>
<g id="n-temperature-b"><circle class="n-bl" cx="519" cy="787" r="1.6"/><text class="l" x="519" y="796">Temperature</text></g>
<g id="n-crisp-border"><circle class="n-bl" cx="547" cy="793" r="1.3"/><text class="l" x="547" y="802">Crisp border</text></g>

<!-- separate pairs -->
<g id="n-function-positions"><circle cx="49" cy="543" r="1" fill="#c5b6f2"/><text class="l" x="49" y="552">function positions</text></g>
<g id="n-temperatures"><circle cx="97" cy="546" r="1" fill="#c5b6f2"/><text class="l" x="96" y="555">temperatures</text></g>
<g id="n-engine-size"><circle cx="62" cy="581" r="1" fill="#f2a27a"/><text class="l" x="62" y="590">engine size</text></g>
<g id="n-engine-small"><circle cx="110" cy="583" r="1" fill="#f2a27a"/><text class="l" x="110" y="593">engine small</text></g>
<g id="n-shapes"><circle cx="77" cy="617" r="1" fill="#86cc66"/><text class="l" x="77" y="626">shapes</text></g>
<g id="n-piecewise-functions"><circle cx="119" cy="636" r="1" fill="#86cc66"/><text class="l" x="119" y="645">piecewise functions</text></g>
<g id="n-fuzzy-operations"><circle cx="117" cy="667" r="1" fill="#8585f0"/><text class="l" x="117" y="676">Fuzzy operations</text></g>
<g id="n-fuzzy-relations-b"><circle cx="159" cy="687" r="1" fill="#8585f0"/><text class="l" x="159" y="696">Fuzzy relations</text></g>
<g id="n-fuzzy-decision-system"><circle cx="173" cy="712" r="1" fill="#f2c060"/><text class="l" x="173" y="721">Fuzzy decision system</text></g>
<g id="n-fuzzy-if-then-rules"><circle cx="211" cy="738" r="1" fill="#f2c060"/><text class="l" x="211" y="747">Fuzzy if-then rules</text></g>
<g id="n-points"><circle cx="245" cy="759" r="1" fill="#e6649a"/><text class="l" x="245" y="768">points</text></g>
<g id="n-lines"><circle cx="291" cy="778" r="1" fill="#e6649a"/><text class="l" x="291" y="787">lines</text></g>
<g id="n-human-centric-approach"><circle cx="336" cy="789" r="1" fill="#b387f2"/><text class="l" x="337" y="798">Human-Centric Approach</text></g>
<g id="n-fuzzy-systems-b"><circle cx="385" cy="799" r="1" fill="#b387f2"/><text class="l" x="385" y="807">Fuzzy Systems</text></g>
<g id="n-four-cylinders"><circle cx="845" cy="500" r="1" fill="#b9d6f4"/><text class="l" x="845" y="509">four cylinders</text></g>
<g id="n-small-size"><circle cx="826" cy="542" r="1" fill="#b9d6f4"/><text class="l" x="831" y="551">small size</text></g>
<g id="n-fuzzy-sets-c"><circle cx="793" cy="551" r="1" fill="#86cc55"/><text class="l" x="793" y="560">Fuzzy Sets</text></g>
<g id="n-membership-functions"><circle cx="807" cy="594" r="1" fill="#86cc55"/><text class="l" x="807" y="602">Membership functions</text></g>
<g id="n-control-system"><circle cx="777" cy="607" r="1" fill="#ee5a5a"/><text class="l" x="777" y="615">Control system</text></g>
<g id="n-fuzzy-control-systems"><circle cx="759" cy="648" r="1" fill="#ee5a5a"/><text class="l" x="759" y="656">Fuzzy Control Systems</text></g>

<!-- headings -->
<text class="title" x="433" y="22">TAIDE Model</text>
<text class="big" x="538" y="327">Concept Temperature</text>
<text class="big" x="308" y="593">Concept Price</text>
</svg>
